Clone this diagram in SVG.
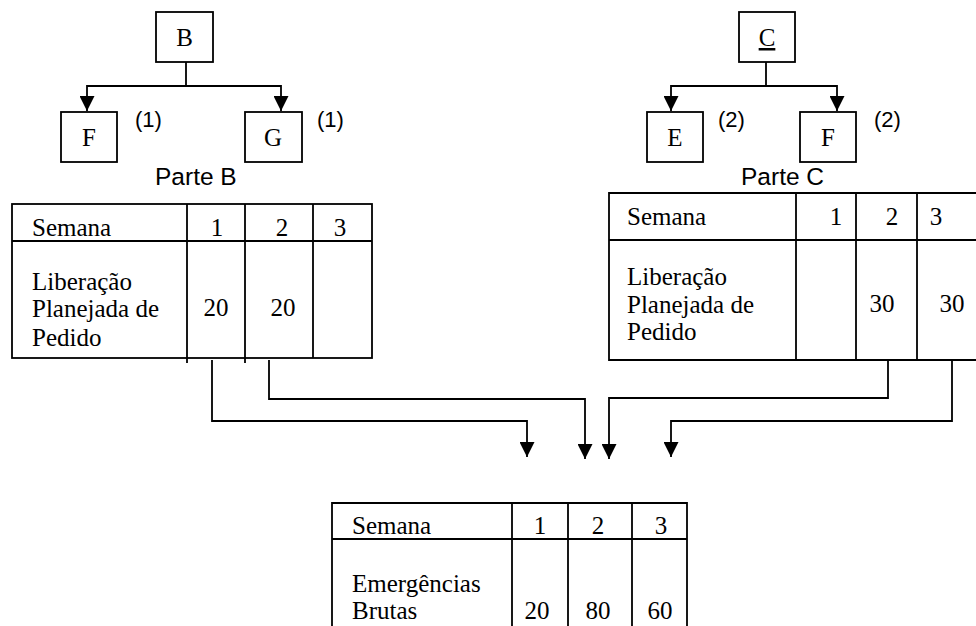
<svg xmlns="http://www.w3.org/2000/svg" width="976" height="626" viewBox="0 0 976 626">
  <style>
    .box { fill: #fff; stroke: #000; stroke-width: 1.8; }
    .ln { fill: none; stroke: #000; stroke-width: 1.8; }
    .tm { font-family: "Liberation Serif", "Times New Roman", serif; font-size: 25px; fill: #000; }
    .ar { font-family: "Liberation Sans", Arial, sans-serif; fill: #000; }
    .c { text-anchor: middle; }
  </style>
  <defs>
    <marker id="tip" markerUnits="userSpaceOnUse" markerWidth="15" markerHeight="15" refX="15" refY="7.5" orient="auto">
      <path d="M0,0 L15,7.5 L0,15 z" fill="#000"/>
    </marker>
  </defs>
  <rect width="976" height="626" fill="#fff"/>

  <!-- Product structure of part B -->
  <g id="node-B">
    <rect class="box" x="156" y="12" width="57" height="50"/>
    <text class="tm c" x="184.5" y="46">B</text>
  </g>
  <g id="node-B-F">
    <rect class="box" x="61" y="112" width="56" height="50"/>
    <text class="tm c" x="89" y="146">F</text>
    <text class="ar" x="135" y="127" font-size="22">(1)</text>
  </g>
  <g id="node-B-G">
    <rect class="box" x="245" y="112" width="57" height="50"/>
    <text class="tm c" x="273" y="146">G</text>
    <text class="ar" x="317" y="127" font-size="22">(1)</text>
  </g>
  <text id="label-parte-b" class="ar" x="155" y="185" font-size="24.5">Parte B</text>

  <!-- Product structure of part C -->
  <g id="node-C">
    <rect class="box" x="739" y="12" width="56" height="50"/>
    <text class="tm c" x="767" y="46" text-decoration="underline">C</text>
  </g>
  <g id="node-C-E">
    <rect class="box" x="647" y="112" width="56" height="50"/>
    <text class="tm c" x="675" y="146">E</text>
    <text class="ar" x="718" y="127" font-size="22">(2)</text>
  </g>
  <g id="node-C-F">
    <rect class="box" x="800" y="112" width="56" height="50"/>
    <text class="tm c" x="828" y="146">F</text>
    <text class="ar" x="874" y="127" font-size="22">(2)</text>
  </g>
  <text id="label-parte-c" class="ar" x="741" y="185" font-size="24.5">Parte C</text>

  <!-- Planned order release, part B -->
  <g id="table-B">
    <rect class="ln" x="12" y="204" width="360" height="154"/>
    <path class="ln" d="M12,241 H372 M187,204 V363 M245,204 V363 M313,204 V358"/>
    <text class="tm" x="32" y="236">Semana</text>
    <text class="tm c" x="217" y="236">1</text>
    <text class="tm c" x="282" y="236">2</text>
    <text class="tm c" x="340" y="236">3</text>
    <text class="tm" x="32" y="290">Liberação</text>
    <text class="tm" x="32" y="317">Planejada de</text>
    <text class="tm" x="32" y="346">Pedido</text>
    <text class="tm c" x="216" y="316">20</text>
    <text class="tm c" x="283" y="316">20</text>
  </g>

  <!-- Planned order release, part C -->
  <g id="table-C">
    <path class="ln" d="M976,193 H609 V360 H976 M609,240 H976 M796,193 V360 M856,193 V360 M917,193 V360"/>
    <text class="tm" x="627" y="225">Semana</text>
    <text class="tm c" x="836" y="225">1</text>
    <text class="tm c" x="892" y="225">2</text>
    <text class="tm c" x="936" y="225">3</text>
    <text class="tm" x="627" y="285">Liberação</text>
    <text class="tm" x="627" y="313">Planejada de</text>
    <text class="tm" x="627" y="340">Pedido</text>
    <text class="tm c" x="882" y="312">30</text>
    <text class="tm c" x="952" y="312">30</text>
  </g>

  <!-- Gross requirements of F -->
  <g id="table-F">
    <path class="ln" d="M332,626 V503 H687 V626 M332,539 H687 M512,503 V626 M568,503 V626 M632,503 V626"/>
    <text class="tm" x="352" y="534">Semana</text>
    <text class="tm c" x="540" y="534">1</text>
    <text class="tm c" x="598" y="534">2</text>
    <text class="tm c" x="661" y="534">3</text>
    <text class="tm" x="352" y="592">Emergências</text>
    <text class="tm" x="352" y="619">Brutas</text>
    <text class="tm c" x="537" y="619">20</text>
    <text class="tm c" x="598" y="619">80</text>
    <text class="tm c" x="660" y="619">60</text>
  </g>

  <g id="connectors">
    <path class="ln" d="M186,62 V86 H87 V111" marker-end="url(#tip)"/>
    <path class="ln" d="M186,86 H281 V111" marker-end="url(#tip)"/>
    <path class="ln" d="M766,62 V86 H671 V111" marker-end="url(#tip)"/>
    <path class="ln" d="M766,86 H837 V111" marker-end="url(#tip)"/>
    <path class="ln" d="M212,360 V421 H527 V457" marker-end="url(#tip)"/>
    <path class="ln" d="M269,360 V399 H585 V459" marker-end="url(#tip)"/>
    <path class="ln" d="M888,360 V398 H609 V459" marker-end="url(#tip)"/>
    <path class="ln" d="M952,360 V421 H671 V457" marker-end="url(#tip)"/>
  </g>
</svg>
